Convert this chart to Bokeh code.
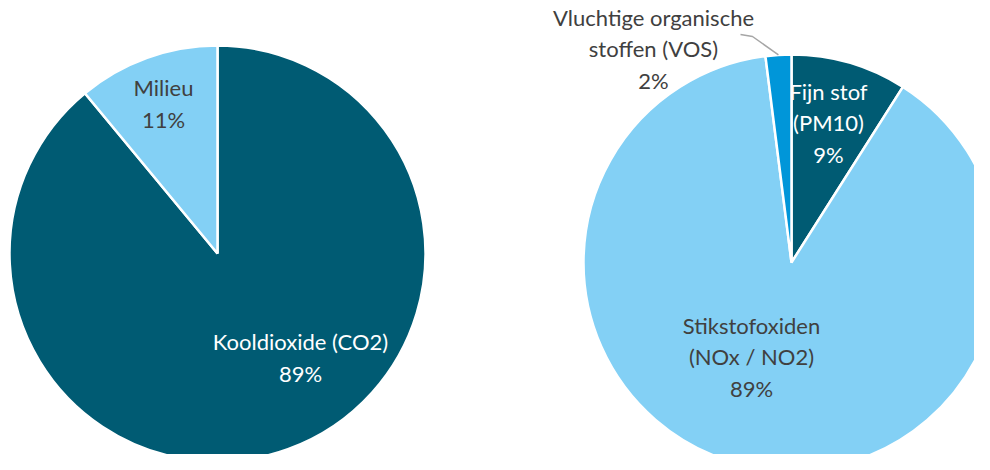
import math
from bokeh.plotting import figure
from bokeh.models import Range1d, ColumnDataSource
from bokeh.core.properties import value
from bokeh.embed import file_html
from bokeh.resources import INLINE

# ---- data ----
left_names = ["Kooldioxide (CO2)", "Milieu"]
left_values = [89, 11]
left_colors = ["#005B73", "#83D0F5"]

right_names = ["Fijn stof\n(PM10)", "Stikstofoxiden\n(NOx / NO2)", "Vluchtige organische\nstoffen (VOS)"]
right_values = [9, 89, 2]
right_colors = ["#005B73", "#83D0F5", "#0096D9"]

# ---- layout (screen pixel coordinates of the reference) ----
W, H = 974, 454
def sy(y):  # screen y -> data y
    return 470 - y

left_center = (217, sy(253))
right_center = (791, sy(262))
radius = 208

left_label_xy = [(300, sy(357)), (163, sy(103))]
left_label_color = ["#FFFFFF", "#404040"]
right_label_xy = [(828, sy(122.5)), (751, sy(356.5)), (653, sy(48.5))]
right_label_color = ["#FFFFFF", "#404040", "#404040"]

FONT = "Lato"
FSIZE = "22px"

p = figure(width=W, height=H, x_range=Range1d(0, W), y_range=Range1d(470 - H, 470),
           output_backend="svg", toolbar_location=None, min_border=0)
p.axis.visible = False
p.grid.visible = False
p.outline_line_color = None
p.background_fill_color = "white"
p.border_fill_color = "white"


def wedges(center, values):
    total = float(sum(values))
    starts, ends = [], []
    cum = 0.0
    for v in values:
        a_top = math.pi / 2 - 2 * math.pi * cum / total
        a_bot = math.pi / 2 - 2 * math.pi * (cum + v) / total
        starts.append(a_bot)
        ends.append(a_top)
        cum += v
    return starts, ends


for center, values, colors, names, lxy, lcol in [
    (left_center, left_values, left_colors, left_names, left_label_xy, left_label_color),
    (right_center, right_values, right_colors, right_names, right_label_xy, right_label_color),
]:
    s, e = wedges(center, values)
    src = ColumnDataSource(dict(x=[center[0]] * len(values), y=[center[1]] * len(values),
                                start=s, end=e, color=colors))
    p.wedge(x="x", y="y", radius=radius, start_angle="start", end_angle="end",
            fill_color="color", line_color="white", line_width=2.5, source=src)
    texts = [f"{n}\n{v}%" for n, v in zip(names, values)]
    tsrc = ColumnDataSource(dict(x=[q[0] for q in lxy], y=[q[1] for q in lxy],
                                 text=texts, color=lcol))
    p.text(x="x", y="y", text="text", text_color="color", source=tsrc,
           text_font=value(FONT), text_font_size=FSIZE, text_align="center",
           text_baseline="middle", text_line_height=1.15)

# leader line for the small VOS slice
s, e = wedges(right_center, right_values)
mid = (s[2] + e[2]) / 2
ex = right_center[0] + radius * math.cos(mid)
ey = right_center[1] + radius * math.sin(mid)
p.line(x=[740, 752, ex], y=[sy(34), sy(36), ey], line_color="#A6A6A6", line_width=1.5)

open("out.html", "w").write(file_html(p, INLINE))
